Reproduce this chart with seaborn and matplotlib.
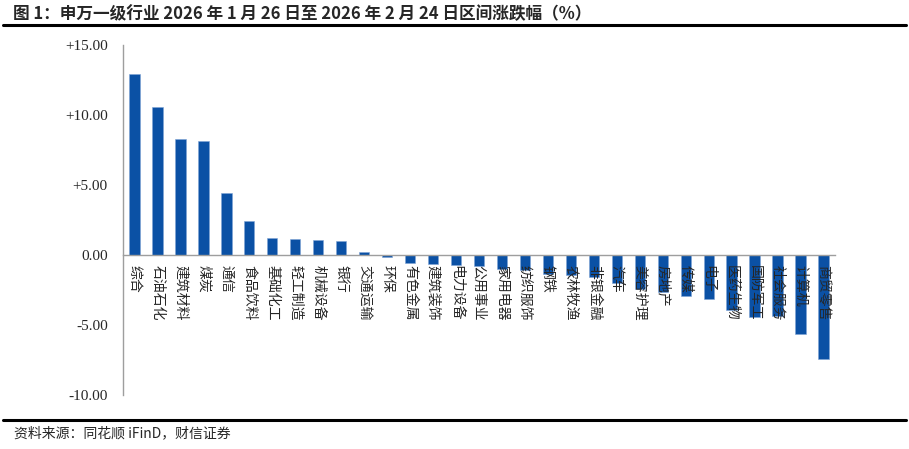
import matplotlib
matplotlib.use("Agg")
import matplotlib.pyplot as plt
import seaborn as sns
import pandas as pd
from matplotlib.ticker import FuncFormatter, FixedLocator
from matplotlib.lines import Line2D

categories = ["综合", "石油石化", "建筑材料", "煤炭", "通信", "食品饮料", "基础化工", "轻工制造",
              "机械设备", "银行", "交通运输", "环保", "有色金属", "建筑装饰", "电力设备", "公用事业",
              "家用电器", "纺织服饰", "钢铁", "农林牧渔", "非银金融", "汽车", "美容护理", "房地产",
              "传媒", "电子", "医药生物", "国防军工", "社会服务", "计算机", "商贸零售"]
values = [12.93, 10.60, 8.29, 8.17, 4.43, 2.45, 1.21, 1.14, 1.05, 1.03, 0.24, -0.17, -0.60,
          -0.64, -0.69, -0.79, -1.00, -1.07, -1.33, -1.43, -1.55, -1.98, -2.43, -2.62, -2.90,
          -3.14, -3.93, -4.40, -4.36, -5.64, -7.40]
y_ticks = [-10, -5, 0, 5, 10, 15]

title = "图 1：申万一级行业 2026 年 1 月 26 日至 2026 年 2 月 24 日区间涨跌幅（%）"
source = "资料来源：同花顺 iFinD，财信证券"

sns.set_style("white")
plt.rcParams['font.family'] = ['Noto Sans CJK SC', 'DejaVu Sans']
plt.rcParams['axes.unicode_minus'] = False

df = pd.DataFrame({"cat": categories, "val": values})

fig = plt.figure(figsize=(9.09, 4.49), dpi=100)
W, H = 909, 449
left, right, top, bottom = 123, 835, 45, 395
ax = fig.add_axes([left / W, 1 - bottom / H, (right - left) / W, (bottom - top) / H])

sns.barplot(data=df, x="cat", y="val", order=categories, color="#0B51A5",
            saturation=1, width=0.45, ax=ax, edgecolor="#7FA4D6", linewidth=0.4)

ax.set_axisbelow(False)
ax.set_xlim(-0.5, len(categories) - 0.5)
ax.set_ylim(-10, 15)
ax.set_xlabel("")
ax.set_ylabel("")

for s in ["top", "right"]:
    ax.spines[s].set_visible(False)
grey = "#9E9E9E"
ax.spines["left"].set_color(grey)
ax.spines["left"].set_linewidth(1.0)
ax.spines["bottom"].set_color(grey)
ax.spines["bottom"].set_linewidth(1.0)
ax.spines["bottom"].set_position(("data", 0))

ax.yaxis.set_major_locator(FixedLocator(y_ticks))
def fmt(v, pos):
    if v > 0:
        return f"+{v:.2f}"
    return f"{v:.2f}"
ax.yaxis.set_major_formatter(FuncFormatter(fmt))
ax.tick_params(axis="y", which="major", direction="out", length=5, width=1, color=grey, pad=6)
for lab in ax.get_yticklabels():
    lab.set_fontfamily("Liberation Serif")
    lab.set_fontsize(11)

ax.set_xticks(range(len(categories)))
ax.set_xticklabels(categories, rotation=-90, fontsize=10, va="top", ha="center")
ax.tick_params(axis="x", which="major", length=0, pad=7)
ax.set_xticks([i + 0.5 for i in range(-1, len(categories))], minor=True)
ax.tick_params(axis="x", which="minor", direction="out", length=5, width=1, color=grey)

fig.text(13 / W, 1 - 14 / H, title, fontsize=12, fontweight="bold", ha="left", va="center")
fig.add_artist(Line2D([3 / W, 906 / W], [1 - 25 / H, 1 - 25 / H], color="black", linewidth=2.2))
fig.add_artist(Line2D([3 / W, 906 / W], [1 - 420 / H, 1 - 420 / H], color="black", linewidth=2.2))
fig.text(14 / W, 1 - 433 / H, source, fontsize=10, style="italic", ha="left", va="center")

fig.savefig("out.png", dpi=100)
